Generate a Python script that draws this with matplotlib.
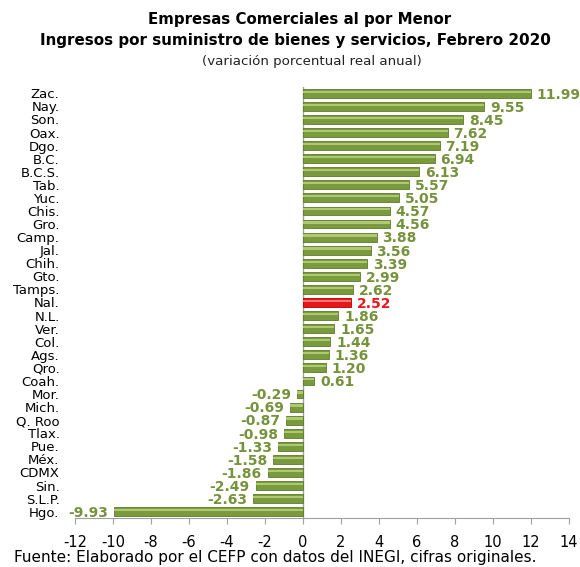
import matplotlib
matplotlib.use("Agg")
import matplotlib.pyplot as plt
import numpy as np

states = ["Zac.", "Nay.", "Son.", "Oax.", "Dgo.", "B.C.", "B.C.S.", "Tab.", "Yuc.", "Chis.",
          "Gro.", "Camp.", "Jal.", "Chih.", "Gto.", "Tamps.", "Nal.", "N.L.", "Ver.", "Col.",
          "Ags.", "Qro.", "Coah.", "Mor.", "Mich.", "Q. Roo", "Tlax.", "Pue.", "Méx.", "CDMX",
          "Sin.", "S.L.P.", "Hgo."]
values = [11.99, 9.55, 8.45, 7.62, 7.19, 6.94, 6.13, 5.57, 5.05, 4.57,
          4.56, 3.88, 3.56, 3.39, 2.99, 2.62, 2.52, 1.86, 1.65, 1.44,
          1.36, 1.20, 0.61, -0.29, -0.69, -0.87, -0.98, -1.33, -1.58, -1.86,
          -2.49, -2.63, -9.93]
xticks = [-12, -10, -8, -6, -4, -2, 0, 2, 4, 6, 8, 10, 12, 14]

plt.rcParams['font.family'] = ['DejaVu Sans']
fig = plt.figure(figsize=(5.8, 5.67), dpi=100)
ax = fig.add_axes([0.129, 0.086, 0.852, 0.761])

n = len(states)
y = np.arange(n)
green = "#7A9A3E"
green_dark = "#5E7A2A"
green_light = "#B5CF7A"
red = "#E8161B"
red_light = "#FF8080"
label_green = "#76923C"

cols = [red if s == "Nal." else green for s in states]
lights = [red_light if s == "Nal." else green_light for s in states]
edges = ["#B00000" if s == "Nal." else green_dark for s in states]

h = 0.68
ax.barh(y, values, height=h, color=cols, edgecolor=edges, linewidth=0.6, zorder=2)
# highlight strip to mimic gradient
ax.barh(y - h * 0.18, values, height=h * 0.25, color=lights, linewidth=0, zorder=3, alpha=0.9)

for yi, v, s in zip(y, values, states):
    c = red if s == "Nal." else label_green
    if v >= 0:
        ax.text(v + 0.3, yi + 0.1, f"{v:.2f}", ha="left", va="center", fontsize=10,
                fontweight="bold", color=c, zorder=4)
    else:
        ax.text(v - 0.3, yi + 0.1, f"{v:.2f}", ha="right", va="center", fontsize=10,
                fontweight="bold", color=c, zorder=4)

ax.set_ylim(n - 0.5, -0.5)
ax.set_xlim(-12, 14)
ax.set_xticks(xticks)
ax.set_xticklabels([str(t) for t in xticks], fontsize=10.5)
ax.set_yticks(y)
ax.set_yticklabels(states, fontsize=9.5)
ax.tick_params(axis="y", length=0, pad=11)
ax.tick_params(axis="x", direction="out", length=4, color="#A0A0A0", pad=8)

for sp in ["top", "right", "left"]:
    ax.spines[sp].set_visible(False)
ax.spines["bottom"].set_color("#A0A0A0")
ax.axvline(0, color="#A0A0A0", linewidth=1, zorder=1)

fig.text(0.517, 0.965, "Empresas Comerciales al por Menor", ha="center", va="center",
         fontsize=10.8, fontweight="bold")
fig.text(0.51, 0.928, "Ingresos por suministro de bienes y servicios, Febrero 2020", ha="center",
         va="center", fontsize=10.9, fontweight="bold")
fig.text(0.538, 0.892, "(variación porcentual real anual)", ha="center", va="center",
         fontsize=9.6, color="#222222")
fig.text(0.025, 0.017, "Fuente: Elaborado por el CEFP con datos del INEGI, cifras originales.",
         ha="left", va="center", fontsize=11)

fig.savefig("out.png", dpi=100)
